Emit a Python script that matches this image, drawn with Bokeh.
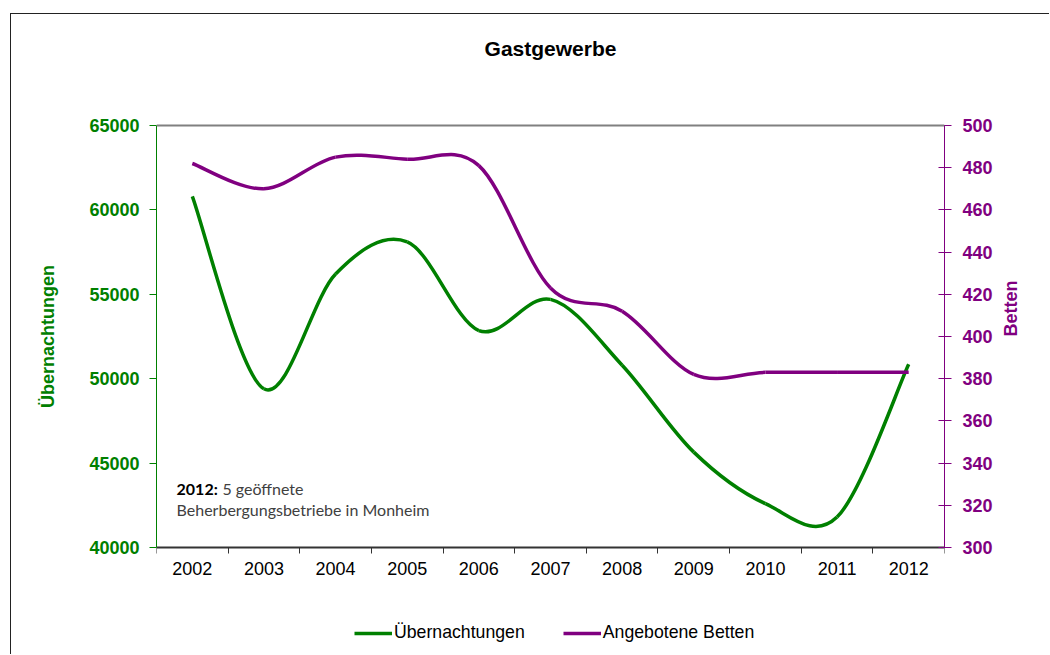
from bokeh.plotting import figure
from bokeh.models import (Range1d, LinearAxis, FixedTicker, NumeralTickFormatter,
                          ColumnDataSource, Legend, LegendItem, Label, Span)
from bokeh.embed import file_html
from bokeh.resources import INLINE
import math

# Yearly figures for the hospitality sector
years = ["2002", "2003", "2004", "2005", "2006", "2007", "2008", "2009", "2010", "2011", "2012"]
uebernachtungen = [60800, 49400, 56200, 58100, 52850, 54700, 50800, 45650, 42600, 41800, 50850]
betten = [482, 470, 485, 484, 481, 423, 412, 382, 383, 383, 383]

left_ticks = [40000, 45000, 50000, 55000, 60000, 65000]
right_ticks = [300, 320, 340, 360, 380, 400, 420, 440, 460, 480, 500]

GREEN = "#008000"
PURPLE = "#800080"
FONT = "Liberation Sans"

# value axes; the drawing area reaches above and below the value band so that
# title, year labels and legend sit inside it
U_MIN, U_MAX = left_ticks[0], left_ticks[-1]
B_MIN, B_MAX = right_ticks[0], right_ticks[-1]
PLOT_PX = 422          # pixel height of the value band
PAD_PX = 108           # extra band above and below
u_pad = PAD_PX * (U_MAX - U_MIN) / PLOT_PX
b_pad = PAD_PX * (B_MAX - B_MIN) / PLOT_PX


def smooth_segments(values):
    """Catmull-Rom style cubic Bezier segments through the points (x = year index)."""
    n = len(values)
    xs = list(range(n))
    data = dict(x0=[], y0=[], x1=[], y1=[], cx0=[], cy0=[], cx1=[], cy1=[])
    for i in range(n - 1):
        p_prev = i - 1 if i > 0 else i
        p_next = i + 2 if i + 2 < n else i + 1
        data["x0"].append(xs[i])
        data["y0"].append(values[i])
        data["x1"].append(xs[i + 1])
        data["y1"].append(values[i + 1])
        data["cx0"].append(xs[i] + (xs[i + 1] - xs[p_prev]) / 6)
        data["cy0"].append(values[i] + (values[i + 1] - values[p_prev]) / 6)
        data["cx1"].append(xs[i + 1] - (xs[p_next] - xs[i]) / 6)
        data["cy1"].append(values[i + 1] - (values[p_next] - values[i]) / 6)
    return ColumnDataSource(data)


p = figure(width=1039, height=641, output_backend="svg", toolbar_location=None,
           x_range=Range1d(-0.5, len(years) - 0.5), y_range=Range1d(U_MIN - u_pad, U_MAX + u_pad),
           x_axis_type=None, y_axis_type=None, title=None,
           min_border_left=145, min_border_right=106, min_border_top=3, min_border_bottom=0)
p.extra_y_ranges = {"betten": Range1d(B_MIN - b_pad, B_MAX + b_pad)}

# outer chart border on the left and top edges
p.styles = {"border-left": "1px solid #222222", "border-top": "1px solid #222222",
            "margin-left": "10px", "margin-top": "13px"}

p.background_fill_color = "white"
p.border_fill_color = "white"
p.outline_line_color = None

# chart title
p.add_layout(Label(x=(len(years) - 1) / 2, y=U_MAX + 0.713 * u_pad, text="Gastgewerbe",
                   text_font=FONT, text_font_size="21px", text_font_style="bold",
                   text_color="black", text_align="center", text_baseline="middle"))

# top edge of the value band
p.add_layout(Span(location=U_MAX, dimension="width", line_color="#808080", line_width=2))

# x axis: year labels centred, tick marks between the years
xaxis = LinearAxis(ticker=FixedTicker(ticks=list(range(len(years))),
                                      minor_ticks=[i - 0.5 for i in range(len(years) + 1)]),
                   fixed_location=U_MIN)
xaxis.major_label_overrides = {i: y for i, y in enumerate(years)}
xaxis.major_tick_line_color = None
xaxis.minor_tick_line_color = "#333333"
xaxis.minor_tick_in = 0
xaxis.minor_tick_out = 6
xaxis.axis_line_color = "#333333"
xaxis.axis_line_width = 2
xaxis.major_label_text_font = FONT
xaxis.major_label_text_font_size = "18px"
xaxis.major_label_text_color = "black"
xaxis.major_label_standoff = 8
p.add_layout(xaxis, "below")

# left axis: overnight stays
yaxis = LinearAxis(ticker=FixedTicker(ticks=left_ticks), formatter=NumeralTickFormatter(format="0"),
                   bounds=(U_MIN, U_MAX))
yaxis.axis_label = "Übernachtungen"
yaxis.axis_label_text_font = FONT
yaxis.axis_label_text_font_size = "18px"
yaxis.axis_label_text_font_style = "bold"
yaxis.axis_label_text_color = GREEN
yaxis.axis_label_standoff = 28
yaxis.axis_line_color = GREEN
yaxis.major_tick_line_color = GREEN
yaxis.major_tick_in = 0
yaxis.major_tick_out = 7
yaxis.minor_tick_line_color = None
yaxis.major_label_text_font = FONT
yaxis.major_label_text_font_size = "18px"
yaxis.major_label_text_font_style = "bold"
yaxis.major_label_text_color = GREEN
yaxis.major_label_standoff = 10
p.add_layout(yaxis, "left")

# right axis: beds on offer
raxis = LinearAxis(y_range_name="betten", ticker=FixedTicker(ticks=right_ticks), bounds=(B_MIN, B_MAX))
raxis.axis_label = "Betten"
raxis.axis_label_text_font = FONT
raxis.axis_label_text_font_size = "18px"
raxis.axis_label_text_font_style = "bold"
raxis.axis_label_text_color = PURPLE
raxis.axis_label_standoff = 15
if "axis_label_orientation" in raxis.properties():
    raxis.axis_label_orientation = math.pi / 2
raxis.axis_line_color = PURPLE
raxis.major_tick_line_color = PURPLE
raxis.major_tick_in = 6
raxis.major_tick_out = 7
raxis.minor_tick_line_color = None
raxis.major_label_text_font = FONT
raxis.major_label_text_font_size = "18px"
raxis.major_label_text_font_style = "bold"
raxis.major_label_text_color = PURPLE
raxis.major_label_standoff = 11
p.add_layout(raxis, "right")

# horizontal gridlines
p.ygrid.ticker = FixedTicker(ticks=left_ticks[1:-1])
p.ygrid.grid_line_color = "black"
p.ygrid.grid_line_width = 1
p.xgrid.visible = False

src_u = smooth_segments(uebernachtungen)
src_b = smooth_segments(betten)

r_u = p.bezier(x0="x0", y0="y0", x1="x1", y1="y1", cx0="cx0", cy0="cy0", cx1="cx1", cy1="cy1",
               source=src_u, line_color=GREEN, line_width=3.5)
r_b = p.bezier(x0="x0", y0="y0", x1="x1", y1="y1", cx0="cx0", cy0="cy0", cx1="cx1", cy1="cy1",
               source=src_b, line_color=PURPLE, line_width=3.5, y_range_name="betten")

# note about open establishments
note1 = Label(x=-0.22, y=43500, text="2012:", text_font="Lato", text_font_size="16px",
              text_font_style="bold", text_color="black", text_baseline="middle")
note2 = Label(x=0.42, y=43500, text="5 geöffnete", text_font="Lato", text_font_size="16px",
              text_color="#404040", text_baseline="middle")
note3 = Label(x=-0.22, y=42250, text="Beherbergungsbetriebe  in Monheim", text_font="Lato",
              text_font_size="16px", text_color="#404040", text_baseline="middle")
for lab in (note1, note2, note3):
    p.add_layout(lab)

legend = Legend(items=[LegendItem(label="Übernachtungen", renderers=[r_u]),
                       LegendItem(label="Angebotene Betten", renderers=[r_b])],
                orientation="horizontal", location=(198, 12),
                label_text_font=FONT, label_text_font_size="17.7px", label_text_color="black",
                glyph_width=38, glyph_height=20, label_standoff=2, spacing=38,
                padding=0, margin=0, border_line_color=None, background_fill_alpha=0)
p.add_layout(legend, "center")

open("out.html", "w").write(file_html(p, INLINE))
